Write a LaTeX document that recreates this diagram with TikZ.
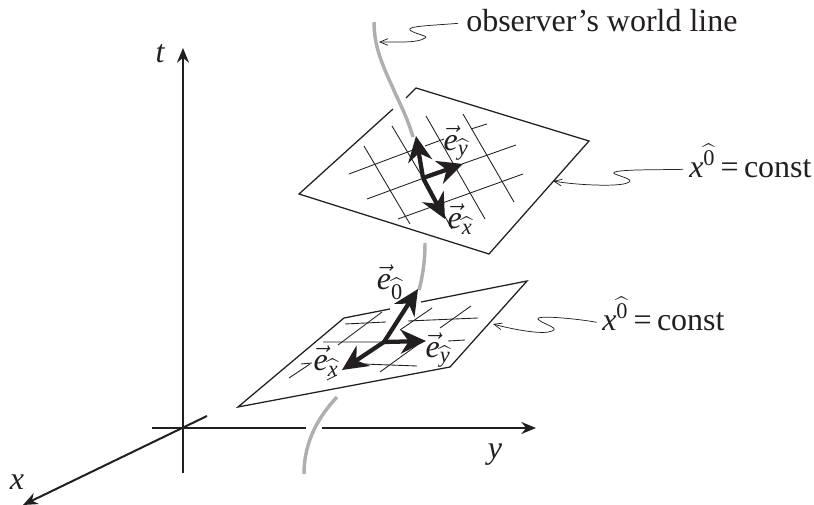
\documentclass[tikz,border=0pt]{standalone}
\usepackage{amsmath}
\usepackage{fontspec}
\setmainfont{Liberation Serif}
\usetikzlibrary{arrows.meta}
\definecolor{LineGray}{RGB}{35,31,32}
\definecolor{WorldGray}{RGB}{175,175,178}
\newcommand{\evec}[1]{$\vec{\textit{e}}_{\widehat{\text{\textit{#1}}}}$}
\newcommand{\ezero}{$\vec{\textit{e}}_{\widehat{\text{0}}}$}
\newcommand{\xconst}{\textit{x}$^{\widehat{\text{0}}}$\,=\,const}
\tikzset{
  axislabel/.style={font=\fontsize{24}{28}\selectfont\itshape, text=LineGray, inner sep=0pt},
  notelabel/.style={font=\fontsize{24}{28}\selectfont, text=LineGray, inner sep=0pt, anchor=base west},
  veclabel/.style={font=\fontsize{24}{28}\selectfont, text=LineGray, inner sep=0pt},
  axisline/.style={line width=1.5pt, LineGray},
  axisarrow/.style={axisline, -{Stealth[length=11pt,width=9pt]}},
  worldline/.style={line width=2.6pt, WorldGray},
  planeline/.style={line width=0.95pt, LineGray, line join=miter},
  gridline/.style={line width=0.65pt, LineGray},
  basisarrow/.style={line width=3.2pt, LineGray, -{Stealth[length=19pt,width=18pt,inset=6pt]}},
  notearrow/.style={line width=0.55pt, LineGray, -{Straight Barb[length=6pt,width=5pt]}},
}
\begin{document}
\begin{tikzpicture}[x=0.75pt,y=-0.75pt]
  \useasboundingbox (0,0) rectangle (814,505);

  % axes
  \coordinate (tstart) at (183,473);
  \coordinate (ttip) at (183,48);
  \coordinate (ystart) at (152,428);
  \coordinate (ygapa) at (306,428);
  \coordinate (ygapb) at (322,428);
  \coordinate (ytip) at (536,428);
  \coordinate (xstart) at (207,416);
  \coordinate (xtip) at (23,505);
  \draw[axisarrow] (tstart) -- (ttip);
  \draw[axisline] (ystart) -- (ygapa);
  \draw[axisarrow] (ygapb) -- (ytip);
  \draw[axisarrow] (xstart) -- (xtip);
  \node[axislabel] (tlabel) at (160,54) {t};
  \node[axislabel] (ylabel) at (495,455) {y};
  \node[axislabel] (xlabel) at (17,482) {x};

  % world line, three pieces
  \coordinate (worlda) at (374,22);
  \coordinate (worldb) at (413,137);
  \coordinate (worldc) at (425,243);
  \coordinate (worldd) at (419,290);
  \coordinate (worlde) at (337,397);
  \coordinate (worldf) at (304,474);
  \draw[worldline] (worlda) .. controls (374,50) and (385,70) .. (396,95) .. controls (403,110) and (408,120) .. (worldb);
  \draw[worldline] (worldc) .. controls (425,260) and (423,275) .. (worldd);
  \draw[worldline] (worlde) .. controls (320,415) and (304,440) .. (worldf);

  % upper plane
  \coordinate (upperleft) at (299,194);
  \coordinate (uppertop) at (416,88);
  \coordinate (upperright) at (589,141);
  \coordinate (upperbottom) at (489,254);
  \coordinate (uppergapa) at (393,109);
  \coordinate (uppergapb) at (406,98);
  \draw[planeline] (uppergapa) -- (upperleft) -- (upperbottom) -- (upperright) -- (uppertop) -- (uppergapb);

  \draw[gridline] (349,174) -- (413,150) (425,146) -- (444,139) (471,129) -- (487,124);
  \draw[gridline] (367,199) -- (424,178) (462,164) -- (516,145);
  \draw[gridline] (398,219) -- (523,174);
  \draw[gridline] (364,146) -- (410,224);
  \draw[gridline] (392,126) -- (420,173) (430,190) -- (452,229);
  \draw[gridline] (426,116) -- (485,219);
  \draw[gridline] (463,114) -- (514,202);

  \coordinate (upperorigin) at (423,178);
  \coordinate (uppert) at (416,136);
  \coordinate (uppery) at (463,164);
  \coordinate (upperx) at (445,219);
  \draw[basisarrow] (upperorigin) -- (uppert);
  \draw[basisarrow] (upperorigin) -- (uppery);
  \draw[basisarrow] (upperorigin) -- (upperx);
  \node[veclabel] (eyupper) at (456,143) {\evec{y}};
  \node[veclabel] (exupper) at (460,219) {\evec{x}};

  % lower plane
  \coordinate (lowerleft) at (238,407);
  \coordinate (lowertop) at (344,318);
  \coordinate (lowerright) at (527,281);
  \coordinate (lowerbottom) at (450,367);
  \coordinate (lowergapa) at (390,309);
  \coordinate (lowergapb) at (421,302);
  \draw[planeline] (lowergapa) -- (lowertop) -- (lowerleft) -- (lowerbottom) -- (lowerright) -- (lowergapb);

  \draw[gridline] (345,324) -- (386,322) (408,321) -- (478,318);
  \draw[gridline] (323,342) -- (383,342) (448,341) -- (465,340);
  \draw[gridline] (301,364) -- (312,363) (363,364) -- (417,366);
  \draw[gridline] (289,378) -- (310,364) (338,345) -- (382,312);
  \draw[gridline] (327,380) -- (337,375) (400,330) -- (432,308);
  \draw[gridline] (380,372) -- (420,343) (440,328) -- (471,306);

  \coordinate (lowerorigin) at (384,342);
  \coordinate (lowert) at (418,289);
  \coordinate (lowery) at (426,341);
  \coordinate (lowerx) at (342,370);
  \draw[basisarrow] (lowerorigin) -- (lowert);
  \draw[basisarrow] (lowerorigin) -- (lowery);
  \draw[basisarrow] (lowerorigin) -- (lowerx);
  \node[veclabel] (ezerolow) at (390,282) {\ezero};
  \node[veclabel] (eylower) at (438,350) {\evec{y}};
  \node[veclabel] (exlower) at (326,361) {\evec{x}};

  % notes with their wavy pointers
  \node[notelabel] (worldnote) at (466,32) {observer's world line};
  \node[notelabel] (upperconst) at (689,178) {\xconst};
  \node[notelabel] (lowerconst) at (602,331) {\xconst};
  \coordinate (worldhit) at (379,42);
  \coordinate (upperhit) at (553,181);
  \coordinate (lowerhit) at (493,324);
  \draw[notearrow] ([xshift=-6pt,yshift=6.5pt]worldnote.base west) .. controls (440,25) and (405,26) .. (410,30) .. controls (414,34) and (430,36) .. (425,38) .. controls (418,43) and (400,42) .. (worldhit);
  \draw[notearrow] ([xshift=-4.5pt,yshift=6.5pt]upperconst.base west) .. controls (660,170) and (605,169) .. (615,174) .. controls (622,177) and (636,180) .. (627,183) .. controls (618,187) and (575,185) .. (upperhit);
  \draw[notearrow] ([xshift=-4pt,yshift=6.5pt]lowerconst.base west) .. controls (580,319) and (530,314) .. (539,320) .. controls (543,324) and (560,328) .. (552,331) .. controls (544,335) and (515,330) .. (lowerhit);
\end{tikzpicture}
\end{document}
